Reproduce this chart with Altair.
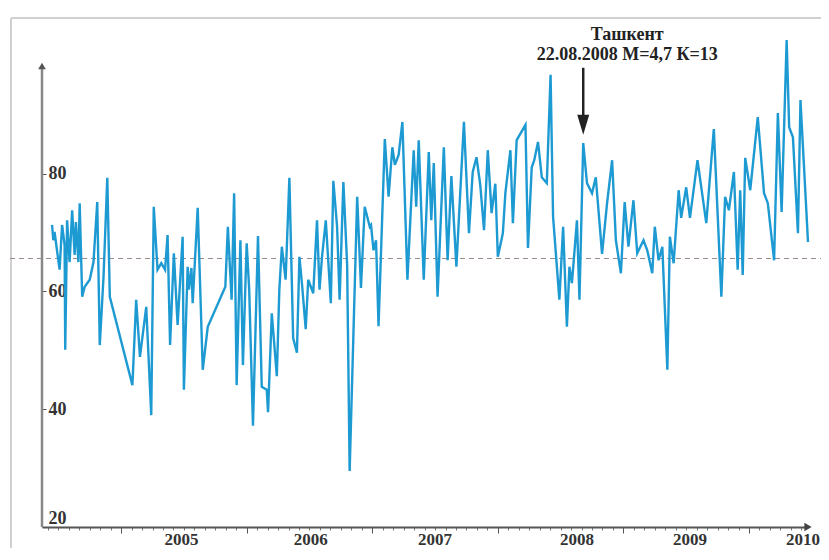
import altair as alt
import pandas as pd

# time position (decimal year) of each reading
t_vals = [
    2004.45, 2004.46, 2004.47, 2004.50, 2004.51, 2004.53, 2004.55, 2004.555, 2004.57, 2004.59,
    2004.61, 2004.63, 2004.64, 2004.66, 2004.67, 2004.69, 2004.71, 2004.75, 2004.78, 2004.81,
    2004.83, 2004.86, 2004.89, 2004.91, 2005.09, 2005.12, 2005.15, 2005.20, 2005.24, 2005.26,
    2005.29, 2005.32, 2005.35, 2005.37, 2005.39, 2005.42, 2005.45, 2005.49, 2005.50, 2005.53,
    2005.54, 2005.56, 2005.57, 2005.61, 2005.65, 2005.69, 2005.83, 2005.85, 2005.88, 2005.90,
    2005.92, 2005.95, 2005.97, 2006.00, 2006.02, 2006.05, 2006.09, 2006.12, 2006.16, 2006.17,
    2006.20, 2006.24, 2006.26, 2006.28, 2006.31, 2006.34, 2006.37, 2006.40, 2006.42, 2006.44,
    2006.47, 2006.49, 2006.53, 2006.56, 2006.58, 2006.60, 2006.63, 2006.67, 2006.69, 2006.72,
    2006.74, 2006.77, 2006.80, 2006.82, 2006.88, 2006.91, 2006.94, 2006.98, 2006.99, 2007.01,
    2007.03, 2007.05, 2007.10, 2007.13, 2007.16, 2007.18, 2007.21, 2007.24, 2007.28, 2007.33,
    2007.35, 2007.37, 2007.41, 2007.45, 2007.47, 2007.49, 2007.52, 2007.57, 2007.60, 2007.63,
    2007.67, 2007.73, 2007.77, 2007.80, 2007.83, 2007.86, 2007.89, 2007.92, 2007.95, 2007.98,
    2008.00, 2008.04, 2008.06, 2008.10, 2008.12, 2008.15, 2008.22, 2008.24, 2008.27, 2008.29,
    2008.32, 2008.35, 2008.39, 2008.42, 2008.44, 2008.49, 2008.52, 2008.55, 2008.57, 2008.59,
    2008.63, 2008.65, 2008.68, 2008.71, 2008.75, 2008.78, 2008.83, 2008.87, 2008.91, 2008.94,
    2008.98, 2009.01, 2009.04, 2009.08, 2009.11, 2009.16, 2009.19, 2009.23, 2009.25, 2009.28,
    2009.31, 2009.35, 2009.37, 2009.40, 2009.44, 2009.46, 2009.50, 2009.53, 2009.59, 2009.66,
    2009.72, 2009.78, 2009.81, 2009.84, 2009.88, 2009.91, 2009.93, 2009.95, 2009.97, 2010.01,
    2010.07, 2010.12, 2010.15, 2010.20, 2010.23, 2010.26, 2010.30, 2010.32, 2010.35, 2010.39,
    2010.41, 2010.47,
]

# reading values
v_vals = [
    71.3, 68.7, 70.1, 65.3, 63.7, 71.3, 67.9, 50.1, 72.1, 65.0,
    73.8, 66.2, 71.8, 65.0, 75.0, 59.1, 60.8, 62.0, 65.0, 75.2,
    50.9, 62.5, 79.3, 59.1, 44.1, 58.6, 48.9, 57.4, 39.0, 74.4,
    63.7, 64.8, 63.7, 69.6, 50.9, 66.5, 54.3, 69.3, 43.3, 64.2,
    60.3, 64.0, 58.0, 74.2, 46.7, 54.0, 60.8, 71.0, 58.6, 76.7,
    44.1, 68.7, 47.5, 68.2, 60.3, 37.2, 69.4, 43.8, 43.3, 39.5,
    56.3, 45.6, 60.3, 67.6, 62.0, 79.3, 52.1, 49.6, 65.9, 61.4,
    53.6, 62.0, 59.7, 72.1, 60.3, 65.9, 72.1, 58.0, 78.8, 71.0,
    58.6, 78.6, 64.5, 29.5, 76.1, 60.6, 74.4, 71.0, 71.3, 67.0,
    68.7, 54.1, 85.9, 76.1, 84.5, 81.5, 83.2, 88.8, 62.0, 84.0,
    74.4, 85.7, 62.0, 83.7, 72.1, 81.8, 59.1, 84.5, 65.3, 79.6,
    64.2, 88.8, 69.9, 80.3, 82.8, 78.1, 70.4, 84.0, 73.3, 78.3,
    65.9, 69.9, 76.7, 84.0, 71.6, 85.7, 88.3, 67.4, 81.1, 82.3,
    85.4, 79.4, 78.4, 96.8, 72.7, 58.6, 71.0, 54.0, 64.2, 61.4,
    72.1, 58.6, 85.2, 78.4, 76.7, 79.4, 66.4, 75.0, 82.3, 68.7,
    63.1, 75.2, 67.6, 75.5, 66.5, 68.7, 67.0, 63.1, 71.0, 65.3,
    67.6, 46.7, 69.3, 64.8, 77.2, 72.5, 77.7, 72.5, 82.3, 71.6,
    87.6, 59.1, 76.1, 73.8, 80.3, 63.7, 77.2, 62.8, 82.7, 77.2,
    89.6, 76.7, 75.0, 65.3, 90.3, 73.5, 102.7, 87.9, 86.2, 69.9,
    92.5, 68.4,
]

mean_level = [65.6]
y_tick_values = [20, 40, 60, 80]
year_tick_values = [2005, 2006, 2007, 2008, 2009, 2010]
year_labels = ["2005", "2006", "2007", "2008", "2009", "2010"]
year_label_pos = [2005.48, 2006.51, 2007.50, 2008.63, 2009.53, 2010.43]
month_ticks = [2004 + k / 12 for k in range(5, 78)]

event_t = 2008.68
annot_lines = ["Ташкент", "22.08.2008 М=4,7  К=13"]
annot_v = [103.6, 100.2]
annot_t = [2009.03, 2009.03]

X_MIN, X_MAX = 2004.37, 2010.47
Y_MIN, Y_MAX = 20, 108.15
W, H = 766, 519

xs = alt.Scale(domain=[X_MIN, X_MAX], nice=False, zero=False)
ys = alt.Scale(domain=[Y_MIN, Y_MAX], nice=False, zero=False)

FONT = "Liberation Serif"
one = pd.DataFrame({"a": [0]})

# light frame of the figure (left and top edges)
frame_left = alt.Chart(one).mark_rule(color="#d0d0d0", strokeWidth=2).encode(
    x=alt.value(-31), y=alt.value(10), y2=alt.value(560)
)
frame_top = alt.Chart(one).mark_rule(color="#d0d0d0", strokeWidth=2).encode(
    x=alt.value(-31), x2=alt.value(830), y=alt.value(10)
)

mean_rule = alt.Chart(pd.DataFrame({"v": mean_level})).mark_rule(
    color="#9b8a85", strokeDash=[5, 4], strokeWidth=1.1
).encode(
    y=alt.Y("v:Q", scale=ys, axis=None),
    x=alt.value(-32),
    x2=alt.value(790),
)

line = alt.Chart(df := pd.DataFrame({"t": t_vals, "v": v_vals})).mark_line(
    color="#1e9ad3", strokeWidth=2.4
).encode(
    x=alt.X(
        "t:Q", scale=xs,
        axis=alt.Axis(orient="bottom", values=month_ticks, tickSize=3, labels=False,
                      grid=False, domainColor="#555555", domainWidth=2,
                      tickColor="#777777", tickWidth=1, title=None),
    ),
    y=alt.Y(
        "v:Q", scale=ys,
        axis=alt.Axis(orient="right", offset=-W, values=y_tick_values, tickSize=4,
                      labelPadding=2, labelFont=FONT, labelFontWeight="bold",
                      labelFontSize=18, labelColor="#333333", domain=False,
                      tickColor="#555555", grid=False, title=None, labelFlush=True),
    ),
)

yaxis_line = alt.Chart(pd.DataFrame({"t": [X_MIN], "v": [Y_MIN], "v2": [98.0]})).mark_rule(
    color="#888888", strokeWidth=2.5
).encode(
    x=alt.X("t:Q", scale=xs, axis=None),
    y=alt.Y("v:Q", scale=ys, axis=None),
    y2="v2:Q",
)

yarrow = alt.Chart(pd.DataFrame({"t": [X_MIN], "v": [98.3]})).mark_point(
    shape="triangle-up", filled=True, color="#555555", size=60, opacity=1
).encode(x=alt.X("t:Q", scale=xs, axis=None), y=alt.Y("v:Q", scale=ys, axis=None))

xarrow = alt.Chart(pd.DataFrame({"t": [X_MAX], "v": [Y_MIN]})).mark_point(
    shape="triangle-right", filled=True, color="#444444", size=70, opacity=1
).encode(x=alt.X("t:Q", scale=xs, axis=None), y=alt.Y("v:Q", scale=ys, axis=None))

year_text = alt.Chart(pd.DataFrame({"t": year_label_pos, "lab": year_labels, "v": [Y_MIN] * 6})).mark_text(
    font=FONT, fontWeight="bold", fontSize=17, color="#333333", dy=13, baseline="middle"
).encode(
    x=alt.X("t:Q", scale=xs,
            axis=alt.Axis(orient="bottom", values=year_tick_values, tickSize=6, labels=False,
                          domain=False, grid=False, tickColor="#555555", tickWidth=1,
                          title=None)),
    y=alt.Y("v:Q", scale=ys, axis=None),
    text="lab:N",
)

event_df = pd.DataFrame({"t": [event_t], "v": [98.0], "v2": [89.6], "vh": [88.3]})
event_shaft = alt.Chart(event_df).mark_rule(color="#222222", strokeWidth=2.5).encode(
    x=alt.X("t:Q", scale=xs, axis=None),
    y=alt.Y("v:Q", scale=ys, axis=None),
    y2="v2:Q",
)
event_head = alt.Chart(event_df).mark_point(
    shape="M-0.6,-1L0.6,-1L0,1Z", filled=True, color="#222222", size=400, opacity=1
).encode(x=alt.X("t:Q", scale=xs, axis=None), y=alt.Y("vh:Q", scale=ys, axis=None))

annot = alt.Chart(pd.DataFrame({"t": annot_t, "v": annot_v, "lab": annot_lines})).mark_text(
    font=FONT, fontWeight="bold", fontSize=18, color="#222222", baseline="middle", align="center"
).encode(
    x=alt.X("t:Q", scale=xs, axis=None),
    y=alt.Y("v:Q", scale=ys, axis=None),
    text="lab:N",
)

chart = alt.layer(
    frame_left, frame_top, mean_rule, line, yaxis_line, yarrow, xarrow, year_text,
    event_shaft, event_head, annot,
).resolve_axis(x="independent", y="independent").properties(
    width=W, height=H,
    autosize=alt.AutoSizeParams(type="none"),
    padding={"left": 34, "top": 0, "right": 13, "bottom": 21},
    background="white",
).configure_view(strokeWidth=0)

chart.save("out.html", embed_options={"renderer": "svg", "actions": False})
